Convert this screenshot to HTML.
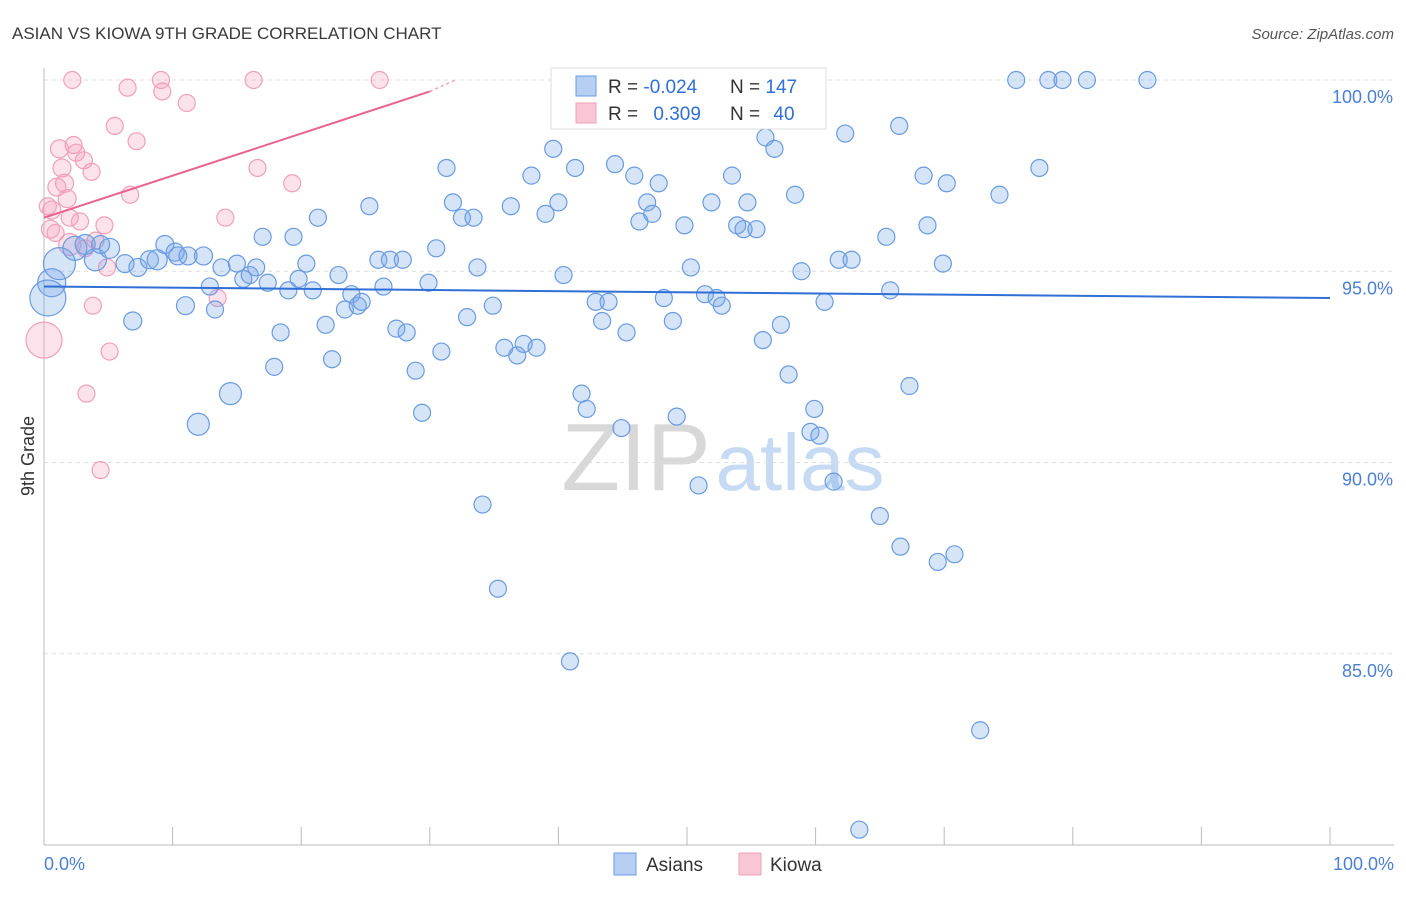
<!DOCTYPE html>
<html><head><meta charset="utf-8"><style>
body{margin:0;background:#fff;font-family:"Liberation Sans",sans-serif;}
svg text{font-family:"Liberation Sans",sans-serif;}
</style></head><body>
<svg id="chart" width="1406" height="892" xmlns="http://www.w3.org/2000/svg">
<text x="12" y="39" font-size="17" fill="#3a3a3a">ASIAN VS KIOWA 9TH GRADE CORRELATION CHART</text>
<text x="1394" y="39" font-size="15" fill="#555" text-anchor="end" font-style="italic">Source: ZipAtlas.com</text>
<g>
<text x="636" y="490" font-size="96" fill="#d8d8d8" font-family="Liberation Serif" text-anchor="middle">ZIP</text>
<text x="800" y="490" font-size="80" fill="#c6daf3" text-anchor="middle">atlas</text>
</g>
<g id="grid"></g><g id="axes"></g><g id="pts"></g><g id="trends"></g>
<text transform="translate(34,456) rotate(-90)" font-size="18" fill="#333" text-anchor="middle">9th Grade</text>
<text x="44" y="870" font-size="18" fill="#4a7fd4">0.0%</text>
<text x="1394" y="870" font-size="18" fill="#4a7fd4" text-anchor="end">100.0%</text>
<g>
<rect x="551" y="68" width="275" height="61" fill="#fff" stroke="#ddd"/>
<rect x="576" y="76" width="20" height="20" fill="#b7cff2" stroke="#6a9be0"/>
<rect x="576" y="103" width="20" height="20" fill="#f9c6d5" stroke="#f0a0b8"/>
<text x="608" y="93" font-size="19" fill="#333">R = <tspan fill="#2f6fd6">-0.024</tspan></text>
<text x="730" y="93" font-size="19" fill="#333">N = <tspan fill="#2f6fd6">147</tspan></text>
<text x="608" y="120" font-size="19" fill="#333">R = <tspan fill="#2f6fd6" dx="10">0.309</tspan></text>
<text x="730" y="120" font-size="19" fill="#333">N = <tspan fill="#2f6fd6" dx="8">40</tspan></text>
</g>
<g>
<rect x="614" y="853" width="22" height="22" fill="#b7cff2" stroke="#6a9be0"/>
<text x="646" y="871" font-size="19" fill="#333">Asians</text>
<rect x="739" y="853" width="22" height="22" fill="#f9c6d5" stroke="#f0a0b8"/>
<text x="770" y="871" font-size="19" fill="#333">Kiowa</text>
</g>
</svg>
<script>
const yTicks=[100,95,90,85];
const yTickLabels=["100.0%","95.0%","90.0%","85.0%"];
const xTicks=[10,20,30,40,50,60,70,80,90,100];
const blueX=[0.6,0.3,1.2,2.4,4.0,3.2,5.1,4.4,6.3,7.3,8.2,8.8,6.9,9.4,10.2,10.4,11.2,12.4,11.0,12.0,14.5,13.8,12.9,13.3,15.0,15.5,16.0,16.5,17.4,17.0,18.4,17.9,19.0,19.4,20.4,19.8,20.9,21.3,21.9,22.4,22.9,23.4,23.9,24.4,24.7,25.3,26.0,26.4,26.9,27.4,27.9,28.2,28.9,29.4,29.9,30.5,30.9,31.3,31.8,32.5,32.9,33.4,33.7,34.1,34.9,35.3,35.8,36.3,36.8,37.3,38.3,37.9,39.0,39.6,40.0,40.4,40.9,41.3,41.8,42.2,42.9,43.4,43.9,44.4,44.9,45.3,45.9,46.3,46.9,47.3,47.8,48.2,48.9,49.2,49.8,50.3,50.9,51.4,51.9,52.3,52.7,53.5,53.9,54.4,54.7,55.4,55.9,56.1,56.8,57.3,57.9,58.4,58.9,59.6,59.9,60.3,60.7,61.4,61.8,62.3,62.8,63.4,65.0,65.5,65.8,66.5,66.6,67.3,68.4,68.7,69.5,69.9,70.2,70.8,72.8,74.3,75.6,77.4,78.1,79.2,81.1,85.8];
const blueY=[94.7,94.3,95.2,95.6,95.3,95.7,95.6,95.7,95.2,95.1,95.3,95.3,93.7,95.7,95.5,95.4,95.4,95.4,94.1,91.0,91.8,95.1,94.6,94.0,95.2,94.8,94.9,95.1,94.7,95.9,93.4,92.5,94.5,95.9,95.2,94.8,94.5,96.4,93.6,92.7,94.9,94.0,94.4,94.1,94.2,96.7,95.3,94.6,95.3,93.5,95.3,93.4,92.4,91.3,94.7,95.6,92.9,97.7,96.8,96.4,93.8,96.4,95.1,88.9,94.1,86.7,93.0,96.7,92.8,93.1,93.0,97.5,96.5,98.2,96.8,94.9,84.8,97.7,91.8,91.4,94.2,93.7,94.2,97.8,90.9,93.4,97.5,96.3,96.8,96.5,97.3,94.3,93.7,91.2,96.2,95.1,89.4,94.4,96.8,94.3,94.1,97.5,96.2,96.1,96.8,96.1,93.2,98.5,98.2,93.6,92.3,97.0,95.0,90.8,91.4,90.7,94.2,89.5,95.3,98.6,95.3,80.4,88.6,95.9,94.5,98.8,87.8,92.0,97.5,96.2,87.4,95.2,97.3,87.6,83.0,97.0,100,97.7,100,100,100,100];
const blueR=[14,18,16,12,11,10,10,9,9,9,9,10,9,9,9,9,9,9,9,11,11];
const pinkX=[0,0.5,0.6,1.0,1.2,1.4,1.6,1.8,2.0,2.2,2.3,2.5,2.8,3.1,3.3,3.7,3.8,4.4,4.7,4.9,5.1,5.5,6.5,6.7,7.2,9.1,9.2,11.1,13.5,14.1,16.3,16.6,19.3,26.1,0.3,0.9,2.0,3.2,4.0];
const pinkY=[93.2,96.1,96.6,97.2,98.2,97.7,97.3,96.9,95.7,100,98.3,98.1,96.3,97.9,91.8,97.6,94.1,89.8,96.2,95.1,92.9,98.8,99.8,97.0,98.4,100,99.7,99.4,94.3,96.4,100,97.7,97.3,100,96.7,96.0,96.4,95.6,95.8];
const pinkR=[18,9,9,9,9,9,9,9,11];
const blueTrend=[[0,94.6],[100,94.3]];
const pinkTrend=[[0,96.4],[30,99.7],[32,100]];
const NS="http://www.w3.org/2000/svg";
const X0=44,X1=1330,YT=80,YB=845,YMIN=80,YMAX=100;
const sx=v=>X0+(v/100)*(X1-X0);
const sy=v=>YB-(v-YMIN)/(YMAX-YMIN)*(YB-YT);
function mk(tag,attrs,parent){const e=document.createElementNS(NS,tag);for(const k in attrs)e.setAttribute(k,attrs[k]);document.getElementById(parent).appendChild(e);return e;}
yTicks.forEach((t,i)=>{
 const l=mk('line',{x1:X0,x2:1394,y1:sy(t),y2:sy(t),stroke:'#ddd','stroke-dasharray':'4,4'},'grid');
 
 
 const tx=mk('text',{x:1393,y:sy(t)+23,'font-size':18,fill:'#4a7fd4','text-anchor':'end'},'grid');
 tx.textContent=yTickLabels[i];
 
 
});
const ax=mk('line',{x1:X0,x2:X0,y1:68,y2:YB,stroke:'#bbb'},'axes');


const bx=mk('line',{x1:X0,x2:1394,y1:YB,y2:YB,stroke:'#bbb'},'axes');


xTicks.forEach(t=>{
 const l=mk('line',{x1:sx(t),x2:sx(t),y1:827,y2:YB,stroke:'#bbb'},'axes');
 
 
});
pinkX.forEach((x,i)=>{
 const c=mk('circle',{cx:sx(x),cy:sy(pinkY[i]),r:pinkR[i]||8.5,fill:'rgba(244,160,190,0.3)',stroke:'#f0a0b8','stroke-width':1.2},'pts');
 
 
});
blueX.forEach((x,i)=>{
 const c=mk('circle',{cx:sx(x),cy:sy(blueY[i]),r:blueR[i]||8.5,fill:'rgba(120,165,232,0.3)',stroke:'#6a9be0','stroke-width':1.2},'pts');
 
 
});
const bl=mk('line',{x1:sx(blueTrend[0][0]),y1:sy(blueTrend[0][1]),x2:sx(blueTrend[1][0]),y2:sy(blueTrend[1][1]),stroke:'#2f6fd6','stroke-width':2},'trends');


const pl=mk('line',{x1:sx(pinkTrend[0][0]),y1:sy(pinkTrend[0][1]),x2:sx(pinkTrend[1][0]),y2:sy(pinkTrend[1][1]),stroke:'#e8638f','stroke-width':2},'trends');


const pd=mk('line',{x1:sx(pinkTrend[1][0]),y1:sy(pinkTrend[1][1]),x2:sx(pinkTrend[2][0]),y2:sy(pinkTrend[2][1]),stroke:'#f0a0b8','stroke-width':1.5,'stroke-dasharray':'3,3'},'trends');


</script>
</body></html>
